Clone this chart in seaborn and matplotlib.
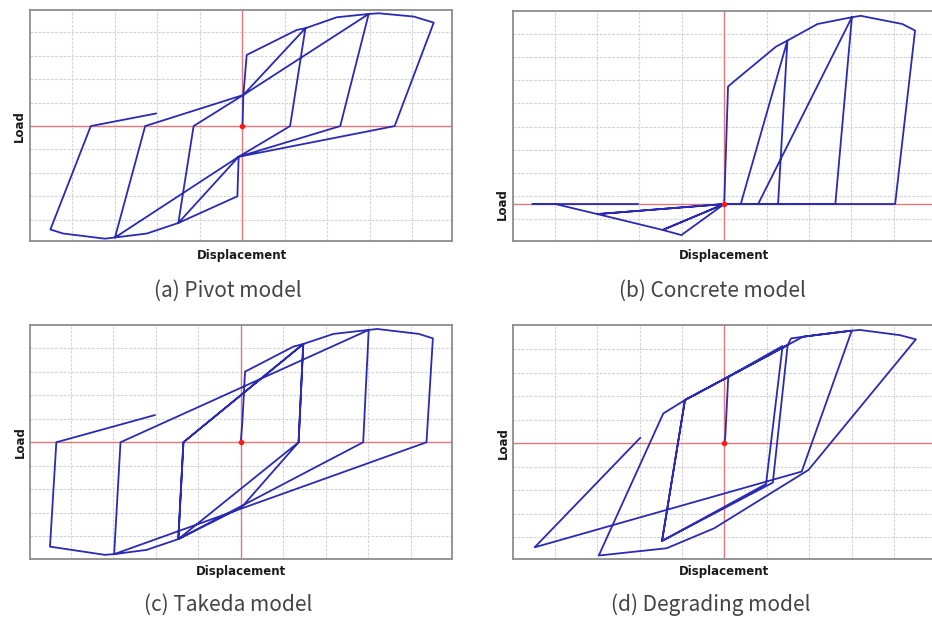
import numpy as np
import pandas as pd
import matplotlib
matplotlib.use("Agg")
import matplotlib.pyplot as plt
import seaborn as sns

# ---------------- data (grid units) ----------------
# (a) Pivot model
pivot_disp = [0, 0.02, 0.10, 1.28, 1.48, 1.12, -0.09, -0.12, -1.51, -1.15, 0.02, 1.48,
              2.22, 2.97, 2.30, -0.09, -1.51, -2.25, -3.00, -2.29, 0.02, 2.97, 3.20,
              4.03, 4.50, 3.58, -0.09, -3.00, -3.24, -4.22, -4.52, -3.57, -2.03]
pivot_load = [0, 1.33, 3.04, 4.11, 4.18, 0, -1.31, -3.00, -4.14, 0, 1.33, 4.18,
              4.65, 4.79, 0, -1.31, -4.14, -4.59, -4.76, 0, 1.33, 4.79, 4.82,
              4.68, 4.42, 0, -1.31, -4.76, -4.81, -4.59, -4.42, 0, 0.54]

# (b) Concrete model
concrete_disp = [0, 0.09, 0.27, 1.22, 1.49, 1.27, 0, -1.01, -1.45, 0, 0.39, 1.49, 2.20,
                 3.01, 2.62, 0, -1.45, -2.99, 0, 0.80, 3.01, 3.22, 4.20, 4.50, 4.03,
                 0, -2.99, -3.98, -4.52, -2.03]
concrete_load = [0, 5.03, 5.31, 6.74, 7.00, 0, 0, -1.33, -1.11, 0, 0, 7.00, 7.71,
                 8.00, 0, 0, -1.11, -0.43, 0, 0, 8.00, 8.06, 7.71, 7.43, 0,
                 0, -0.43, 0, 0, 0]

# (c) Takeda model
takeda_disp = [0, 0.04, 0.10, 1.24, 1.47, 1.36, 0.02, -1.47, -1.35, 1.47, 1.36, -1.47,
               -1.35, 1.47, 2.18, 3.01, 2.88, -1.47, -2.22, -2.98, -2.83, 3.01, 3.21,
               4.19, 4.52, 4.37, -2.98, -3.20, -4.49, -4.34, -2.02]
takeda_load = [0, 0.95, 3.01, 4.08, 4.19, 0, -2.77, -4.13, 0, 4.19, 0, -4.13,
               0, 4.19, 4.62, 4.79, 0, -4.13, -4.59, -4.77, 0, 4.79, 4.83,
               4.62, 4.43, 0, -4.77, -4.80, -4.45, 0, 1.16]

# (d) Degrading model
degrading_disp = [0, 0.02, 0.09, 1.37, 0.98, -1.47, -0.93, 1.49, 1.14, -1.47, -0.93, 1.49,
                  1.57, 2.13, 3.00, 3.19, 4.13, 4.51, 1.98, -0.24, -1.36, -2.96, -1.44,
                  -0.93, 1.49, 1.85, 3.00, 1.82, -4.47, -1.98]
degrading_load = [0, 0.28, 2.83, 4.14, -1.73, -4.15, 1.84, 4.18, -1.67, -4.15, 1.84, 4.18,
                  4.46, 4.60, 4.79, 4.82, 4.60, 4.42, -1.13, -3.61, -4.46, -4.77, 1.27,
                  1.84, 4.18, 4.53, 4.79, -1.20, -4.42, 0.24]

captions = ["(a) Pivot model", "(b) Concrete model", "(c) Takeda model", "(d) Degrading model"]
x_label = "Displacement"
y_label = "Load"

# ---------------- style ----------------
sns.set_style("white")
plt.rcParams["font.family"] = ["DejaVu Sans"]

W, H = 932, 617
fig = plt.figure(figsize=(W / 100, H / 100), dpi=100)
fig.patch.set_facecolor("white")

BLUE = "#2a2ab2"
RED = "#e07a7a"
GRID = "#d4d4d4"
SPINE = "#8c8c8c"


def ax_at(x0, y0, x1, y1):
    return fig.add_axes([x0 / W, 1 - y1 / H, (x1 - x0) / W, (y1 - y0) / H])


panels = [
    dict(box=(30, 10, 452, 241), disp=pivot_disp, load=pivot_load,
         xlim=(-5.0, 4.93), ylim=(-4.91, 4.96),
         ygrid=np.arange(-4, 5, 1.0)),
    dict(box=(513, 10.7, 935, 240.7), disp=concrete_disp, load=concrete_load,
         xlim=(-4.98, 4.97), ylim=(-1.57, 8.28),
         ygrid=np.arange(-0.66, 7.5, 0.995)),
    dict(box=(30, 325, 452, 559.3), disp=takeda_disp, load=takeda_load,
         xlim=(-4.96, 4.97), ylim=(-4.99, 5.0),
         ygrid=np.arange(-4, 5, 1.0)),
    dict(box=(513, 325, 935, 559.3), disp=degrading_disp, load=degrading_load,
         xlim=(-4.98, 4.96), ylim=(-4.93, 5.03),
         ygrid=np.arange(-4, 5, 1.0)),
]

label_pos = [  # (load label x, displacement label y, caption x, caption y) in px
    (19, 255, 228, 291),
    (502, 255, 712, 291),
    (20, 572, 228, 605),
    (503, 572, 711, 605),
]

for p, cap, (lx, dy, cx, cy) in zip(panels, captions, label_pos):
    x0, y0, x1, y1 = p["box"]
    ax = ax_at(x0, y0, x1, y1)
    ax.set_xlim(*p["xlim"])
    ax.set_ylim(*p["ylim"])
    for g in np.arange(-4, 5, 1.0):
        ax.axvline(g, color=GRID, lw=0.8, ls=(0, (2.5, 1.2)), zorder=0)
    for g in p["ygrid"]:
        ax.axhline(g, color=GRID, lw=0.8, ls=(0, (2.5, 1.2)), zorder=0)
    ax.axhline(0, color=RED, lw=1.0, zorder=1)
    ax.axvline(0, color=RED, lw=1.0, zorder=1)
    df = pd.DataFrame({"disp": p["disp"], "load": p["load"]})
    sns.lineplot(data=df, x="disp", y="load", sort=False, estimator=None,
                 color=BLUE, lw=1.3, ax=ax, zorder=3)
    ax.plot([0], [0], "o", color="#ff1a1a", ms=3, zorder=4)
    ax.set_xticks([])
    ax.set_yticks([])
    ax.set_xlabel("")
    ax.set_ylabel("")
    for s in ax.spines.values():
        s.set_color(SPINE)
        s.set_linewidth(1.3)
    # Load label centred on the zero line
    y_zero_px = y1 - (0 - p["ylim"][0]) / (p["ylim"][1] - p["ylim"][0]) * (y1 - y0)
    fig.text(lx / W, 1 - y_zero_px / H, y_label, rotation=90, ha="center", va="center",
             fontsize=8.5, fontweight="bold", color="#1a1a1a")
    # Displacement label centred on the zero line
    x_zero_px = x0 + (0 - p["xlim"][0]) / (p["xlim"][1] - p["xlim"][0]) * (x1 - x0)
    fig.text(x_zero_px / W, 1 - dy / H, x_label, ha="center", va="center",
             fontsize=8.5, fontweight="bold", color="#1a1a1a")
    fig.text(cx / W, 1 - cy / H, cap, ha="center", va="center", fontsize=15,
             color="#444444", family=["Noto Sans CJK KR", "DejaVu Sans"])

fig.savefig("out.png", dpi=100, facecolor="white")
